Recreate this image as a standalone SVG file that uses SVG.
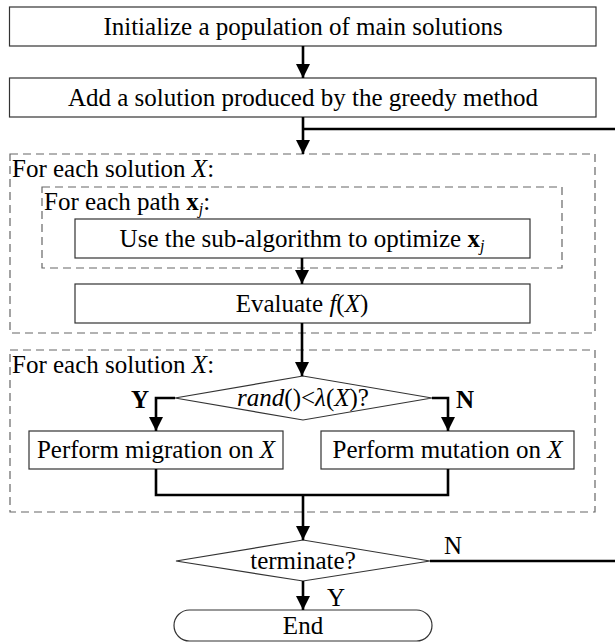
<svg xmlns="http://www.w3.org/2000/svg" width="615" height="643" viewBox="0 0 615 643" font-family="'Liberation Serif', 'Times New Roman', serif" font-size="25">
<style>
.box{fill:#fff;stroke:#333;stroke-width:1.2}
.dash{fill:none;stroke:#666;stroke-width:1.2;stroke-dasharray:8 5}
.c{fill:none;stroke:#000;stroke-width:2.6}
.m{text-anchor:middle}
.i{font-style:italic}
.b{font-weight:bold}
</style>
<defs>
<marker id="ah" markerUnits="userSpaceOnUse" markerWidth="14" markerHeight="16" refX="14" refY="7" orient="auto">
<path d="M0,0 L14,7 L0,14 z" fill="#000"/>
</marker>
</defs>
<rect width="615" height="643" fill="#fff"/>
<g id="loop1">
<rect class="dash" x="10" y="154" width="585" height="179"/>
<text x="12" y="177">For each solution <tspan class="i">X</tspan>:</text>
</g>
<g id="loop2">
<rect class="dash" x="42" y="187" width="520" height="81"/>
<text x="44" y="210">For each path <tspan class="b">x</tspan><tspan class="i" font-size="16" dy="4">j</tspan><tspan dy="-4">:</tspan></text>
</g>
<g id="loop3">
<rect class="dash" x="10" y="350" width="585" height="162"/>
<text x="12" y="373">For each solution <tspan class="i">X</tspan>:</text>
</g>
<g id="init">
<rect class="box" x="9.5" y="7" width="586.5" height="39"/>
<text class="m" x="303" y="35">Initialize a population of main solutions</text>
</g>
<g id="greedy">
<rect class="box" x="9.5" y="78" width="586.5" height="39"/>
<text class="m" x="303" y="106">Add a solution produced by the greedy method</text>
</g>
<g id="sub">
<rect class="box" x="75" y="219" width="455" height="39"/>
<text class="m" x="302" y="247">Use the sub-algorithm to optimize <tspan class="b">x</tspan><tspan class="i" font-size="16" dy="4">j</tspan></text>
</g>
<g id="eval">
<rect class="box" x="75" y="284" width="455" height="39"/>
<text class="m" x="302" y="312">Evaluate <tspan class="i">f</tspan>(<tspan class="i">X</tspan>)</text>
</g>
<g id="cond">
<polygon class="box" points="175,398 303,376 432,398 303,420"/>
<text class="m" x="303" y="406"><tspan class="i">rand</tspan>()&lt;<tspan class="i">λ</tspan>(<tspan class="i">X</tspan>)?</text>
</g>
<g id="migration">
<rect class="box" x="29" y="431" width="254" height="38"/>
<text class="m" x="156" y="458">Perform migration on <tspan class="i">X</tspan></text>
</g>
<g id="mutation">
<rect class="box" x="321" y="431" width="253" height="38"/>
<text class="m" x="447.5" y="458">Perform mutation on <tspan class="i">X</tspan></text>
</g>
<g id="terminate">
<polygon class="box" points="176,561 303,540 430,561 303,581"/>
<text class="m" x="303" y="569">terminate?</text>
</g>
<g id="end">
<rect class="box" x="174" y="610" width="258" height="31" rx="15.5"/>
<text class="m" x="303" y="634">End</text>
</g>
<g id="connectors">
<line class="c" x1="303" y1="46" x2="303" y2="78" marker-end="url(#ah)"/>
<line class="c" x1="303" y1="117" x2="303" y2="154" marker-end="url(#ah)"/>
<line class="c" x1="303" y1="129" x2="616" y2="129"/>
<line class="c" x1="302" y1="258" x2="302" y2="284" marker-end="url(#ah)"/>
<line class="c" x1="302" y1="323" x2="302" y2="376" marker-end="url(#ah)"/>
<polyline class="c" points="175,398 156,398 156,431" marker-end="url(#ah)"/>
<polyline class="c" points="432,398 448,398 448,431" marker-end="url(#ah)"/>
<polyline class="c" points="156,469 156,495 448,495 448,469"/>
<line class="c" x1="303" y1="495" x2="303" y2="540" marker-end="url(#ah)"/>
<line class="c" x1="430" y1="561" x2="616" y2="561"/>
<line class="c" x1="303" y1="581" x2="303" y2="610" marker-end="url(#ah)"/>
<text class="b" x="131" y="408">Y</text>
<text class="b" x="456" y="408">N</text>
<text x="444" y="554">N</text>
<text x="327" y="606">Y</text>
</g>
</svg>
